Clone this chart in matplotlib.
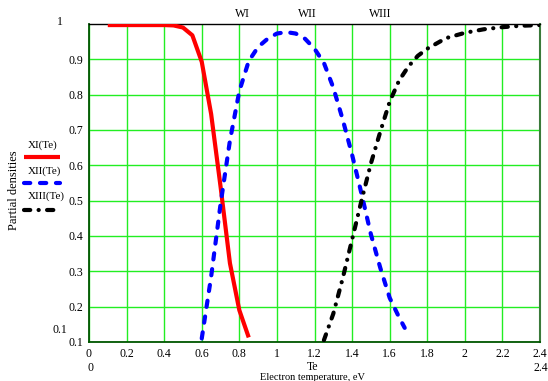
import matplotlib
matplotlib.use("Agg")
import matplotlib.pyplot as plt
from matplotlib.lines import Line2D

plt.rcParams['font.family'] = ['Liberation Serif', 'DejaVu Serif']
plt.rcParams['lines.scale_dashes'] = False

# electron temperature (eV) and partial densities
te_1 = [0.1, 0.2, 0.3, 0.4, 0.45, 0.5, 0.55, 0.6, 0.65, 0.7, 0.75, 0.8, 0.85]
x_1 = [0.997, 0.997, 0.997, 0.997, 0.996, 0.99, 0.968, 0.893, 0.745, 0.54, 0.323, 0.19, 0.113]

te_2 = [0.6, 0.65, 0.7, 0.75, 0.8, 0.85, 0.9, 0.95, 1.0, 1.05, 1.1, 1.15, 1.2,
        1.25, 1.3, 1.35, 1.4, 1.45, 1.5, 1.55, 1.6, 1.65, 1.68]
x_2 = [0.11, 0.285, 0.49, 0.67, 0.81, 0.895, 0.935, 0.958, 0.973, 0.977, 0.973, 0.958, 0.93,
       0.89, 0.82, 0.73, 0.63, 0.52, 0.405, 0.31, 0.225, 0.17, 0.14]

te_3 = [1.25, 1.3, 1.35, 1.4, 1.45, 1.5, 1.55, 1.6, 1.65, 1.7, 1.75, 1.8, 1.9,
        2.0, 2.1, 2.2, 2.3, 2.4]
x_3 = [0.105, 0.18, 0.28, 0.39, 0.5, 0.605, 0.695, 0.78, 0.84, 0.88, 0.91, 0.93, 0.96,
       0.975, 0.985, 0.991, 0.995, 0.997]

xticks = [0, 0.2, 0.4, 0.6, 0.8, 1, 1.2, 1.4, 1.6, 1.8, 2, 2.2, 2.4]
xticklabels = ['0', '0.2', '0.4', '0.6', '0.8', '1', '1.2', '1.4', '1.6', '1.8', '2', '2.2', '2.4']
yticks = [0.1, 0.2, 0.3, 0.4, 0.5, 0.6, 0.7, 0.8, 0.9]
yticklabels = ['0.1', '0.2', '0.3', '0.4', '0.5', '0.6', '0.7', '0.8', '0.9']
wlabels = ['WI', 'WII', 'WIII']
names = ['XI(Te)', 'XII(Te)', 'XIII(Te)']

W, H = 548, 381
fig = plt.figure(figsize=(W / 100, H / 100), dpi=100)
ax = fig.add_axes([89 / W, 1 - 342 / H, 451 / W, 318 / H])

dash_2 = (4.5, 7)
dash_3 = (4.5, 6, 0.1, 6)

l1, = ax.plot(te_1, x_1, color='red', lw=3, solid_capstyle='butt', zorder=3)
l2, = ax.plot(te_2, x_2, color='blue', lw=3, dashes=dash_2, dash_capstyle='round', zorder=3)
l3, = ax.plot(te_3, x_3, color='black', lw=3, dashes=dash_3, dash_capstyle='round', zorder=3)

ax.set_xlim(0, 2.4)
ax.set_ylim(0.1, 1.0)
ax.set_xticks(xticks)
ax.set_xticklabels(xticklabels, fontsize=8.5)
ax.set_yticks(yticks)
ax.set_yticklabels(yticklabels, fontsize=8.5)
ax.tick_params(length=0, pad=4)
ax.grid(True, color='#22ee22', lw=1)
ax.set_axisbelow(True)

for s in ['left', 'bottom']:
    ax.spines[s].set_color('#005500')
    ax.spines[s].set_linewidth(1.3)
ax.spines['right'].set_color('#3a7a3a')
ax.spines['right'].set_linewidth(1.5)
ax.spines['top'].set_color('black')
ax.spines['top'].set_linewidth(1)

def px(x, y):
    return x / W, 1 - y / H

# limits and axis titles, Mathcad style
fig.text(*px(60, 22), '1', fontsize=8.5, ha='center', va='center')
fig.text(*px(60, 330), '0.1', fontsize=8.5, ha='center', va='center')
fig.text(*px(91, 368), '0', fontsize=8.5, ha='center', va='center')
fig.text(*px(541, 368), '2.4', fontsize=8.5, ha='center', va='center')
fig.text(*px(313, 367), 'Te', fontsize=8.5, ha='center', va='center')
fig.text(*px(313, 377), 'Electron temperature, eV', fontsize=7.5, ha='center', va='center')
fig.text(*px(14, 190), 'Partial densities', fontsize=9, ha='center', va='center', rotation=90)

for lab, xp in zip(wlabels, [242, 307, 380]):
    fig.text(*px(xp, 14), lab, fontsize=8.5, ha='center', va='center')

# manual legend: name above sample line
legend_dashes = [(None, None), dash_2, dash_3]
for name, line, dsh, ty, ly in zip(names, [l1, l2, l3], legend_dashes,
                                   [145, 171, 196], [157, 183, 210]):
    fig.text(*px(28, ty), name, fontsize=8, ha='left', va='center')
    x0, y0 = px(24, ly)
    x1, _ = px(60, ly)
    fig.add_artist(Line2D([x0, x1], [y0, y0], transform=fig.transFigure,
                          color=line.get_color(), lw=3,
                          linestyle=line.get_linestyle(), dashes=dsh,
                          dash_capstyle='round', solid_capstyle='butt'))

fig.savefig('out.png', dpi=100)
